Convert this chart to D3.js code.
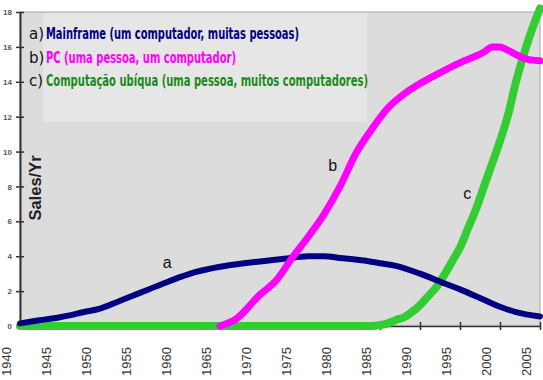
<!DOCTYPE html>
<html>
<head>
<meta charset="utf-8">
<script src="https://cdn.jsdelivr.net/npm/d3@7"></script>
<style>
body{margin:0;background:#fff;}
svg{display:block;}
</style>
</head>
<body>
<svg id="chart" width="543" height="380"></svg>
<script>
// values (sales / yr)
const mainframeYears=[1940,1942,1945,1948,1950,1952,1955,1958,1960,1962,1965,1968,1970,1973,1976,1978,1980,1983,1985,1987,1990,1993,1995,1998,2000,2002,2005];
const mainframeVals=[0.15,0.3,0.5,0.8,1.0,1.35,1.9,2.45,2.8,3.1,3.4,3.6,3.7,3.85,4.0,4.0,3.9,3.75,3.6,3.45,3.0,2.45,2.1,1.5,1.1,0.8,0.55];
const pcYears=[1965,1967,1970,1972,1974,1976,1978,1980,1982,1984,1986,1988,1990,1992,1995,1998,1999,2000,2001,2003,2005];
const pcVals=[0,0.4,1.8,2.6,3.9,5.1,6.4,8.0,9.9,11.3,12.5,13.3,13.9,14.4,15.1,15.7,16.0,16.0,15.8,15.35,15.2];
const ubiqYears=[1940,1984,1985,1986,1987,1988,1989,1990,1991,1992,1993,1994,1995,1996,1997,1998,1999,2000,2001,2002,2003,2004,2005];
const ubiqVals=[0,0,0.05,0.15,0.35,0.5,0.8,1.2,1.7,2.2,2.9,3.7,4.5,5.6,6.7,8.0,9.3,10.6,12.1,14.0,15.6,17.0,18.2];

const xTicks=d3.range(1940,2006,5);
const yTicks=d3.range(0,19,2);
const legendKeys=["a)","b)","c)"];
const legendNames=["Mainframe (um computador, muitas pessoas)","PC (uma pessoa, um computador)","Computação ubíqua (uma pessoa, muitos computadores)"];
const seriesLabels=[["a",1958.4,3.3],["b",1979.1,8.9],["c",1995.9,7.3]];

const svg=d3.select("#chart");
const mL=20,mR=540,mT=12,mB=326;

const x=d3.scaleLinear().domain([1940,2005]).range([mL,mR]);
const y=d3.scaleLinear().domain([0,18]).range([mB,mT]);

// plot background
svg.append("rect").attr("x",mL).attr("y",mT).attr("width",mR-mL).attr("height",mB-mT)
  .attr("fill","#dcdcdc").attr("stroke","#a8a8a8").attr("stroke-width",1);

// legend box
svg.append("rect").attr("x",43).attr("y",mT+1).attr("width",324).attr("height",109).attr("fill","#e6e6e6");

const line=d3.line().x(d=>x(d[0])).y(d=>y(d[1])).curve(d3.curveMonotoneX);
const series=[
  {years:ubiqYears,vals:ubiqVals,color:"#33cc33",w:8},
  {years:mainframeYears,vals:mainframeVals,color:"#000080",w:6},
  {years:pcYears,vals:pcVals,color:"#ff00ff",w:7}
];

// y axis
const yAxis=svg.append("g").attr("transform",`translate(${mL},0)`)
  .call(d3.axisLeft(y).tickValues(yTicks).tickSize(0).tickPadding(8));
yAxis.select(".domain").attr("stroke","#333").attr("stroke-width",2);
yAxis.selectAll("text").attr("font-family","Liberation Sans, Arial").attr("font-size",8).attr("font-weight","bold").attr("fill","#555");
yAxis.selectAll(".tick").append("line").attr("x1",-4).attr("x2",4).attr("stroke","#333").attr("stroke-width",1.5);

// x axis
const xAxis=svg.append("g").attr("transform",`translate(0,${mB})`)
  .call(d3.axisBottom(x).tickValues(xTicks).tickSize(0).tickFormat(d3.format("d")));
xAxis.select(".domain").attr("stroke","#333").attr("stroke-width",1.5);
xAxis.selectAll(".tick").append("line").attr("y1",-4).attr("y2",4).attr("stroke","#333").attr("stroke-width",1.5);
xAxis.selectAll("text")
  .attr("font-family","Liberation Sans, Arial").attr("font-size",13).attr("fill","#333")
  .attr("text-anchor","end").attr("y",0).attr("dy","0.35em")
  .attr("transform","translate(-14,21) rotate(-90)");

series.forEach(s=>{
  svg.append("path").datum(s.years.map((yr,i)=>[yr,s.vals[i]]))
    .attr("d",line).attr("fill","none").attr("stroke",s.color)
    .attr("stroke-width",s.w).attr("stroke-linejoin","round").attr("stroke-linecap","round");
});

// legend text
const legendColors=["#000080","#ff00ff","#1a8a1a"];
const legendWidths=[253,190,322];
legendKeys.forEach((k,i)=>{
  const by=39+i*23.5;
  svg.append("text").attr("x",29).attr("y",by).text(k)
    .attr("font-family","DejaVu Sans").attr("font-size",15).attr("fill","#111");
  svg.append("text").attr("x",46).attr("y",by).text(legendNames[i])
    .attr("font-family","DejaVu Sans Condensed, DejaVu Sans").attr("font-weight","bold")
    .attr("font-stretch","condensed").attr("font-size",15).attr("fill",legendColors[i])
    .attr("textLength",legendWidths[i]).attr("lengthAdjust","spacingAndGlyphs");
});

// series letters
seriesLabels.forEach(([t,xv,yv])=>{
  svg.append("text").attr("x",x(xv)).attr("y",y(yv)).text(t)
    .attr("text-anchor","middle").attr("font-family","Liberation Sans, Arial")
    .attr("font-size",16).attr("fill","#111");
});

// y label
svg.append("text").attr("transform","translate(41,188) rotate(-90)")
  .attr("text-anchor","middle").attr("font-family","Liberation Sans, Arial")
  .attr("font-size",16.5).attr("font-weight","bold").attr("fill","#222").text("Sales/Yr");
</script>
</body>
</html>
